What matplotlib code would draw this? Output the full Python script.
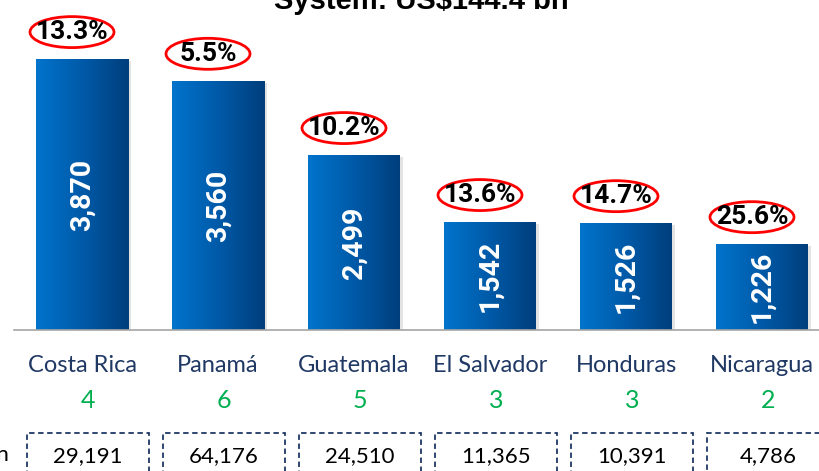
import numpy as np
import matplotlib
matplotlib.use("Agg")
import matplotlib.pyplot as plt
from matplotlib.patches import Rectangle, Ellipse
from matplotlib.colors import LinearSegmentedColormap
from matplotlib import transforms

countries = ["Costa Rica", "Panamá", "Guatemala", "El Salvador", "Honduras", "Nicaragua"]
values = [3870, 3560, 2499, 1542, 1526, 1226]
growth = ["13.3%", "5.5%", "10.2%", "13.6%", "14.7%", "25.6%"]
counts = [4, 6, 5, 3, 3, 2]
boxed = ["29,191", "64,176", "24,510", "11,365", "10,391", "4,786"]
title = "System: US$144.4 bn"

W, H, DPI = 819, 471, 100
NAVY = "#1F3864"; GREEN = "#00B050"
grad = LinearSegmentedColormap.from_list("bar", ["#0074CC", "#005AA8", "#003E7C"])

fig = plt.figure(figsize=(W / DPI, H / DPI), dpi=DPI)
fig.patch.set_facecolor("white")
# axes: baseline at 330 px from top, 136 px between bar centres
base_px = 330
ax = fig.add_axes([0, (H - base_px) / H, 1, base_px / H])
step, x0 = 136, 82
ax.set_xlim(-x0 / step, (W - x0) / step)
ypx = 0.07  # pixels per unit
ax.set_ylim(0, base_px / ypx)
ax.axis("off")

bw = 92 / step
xs = np.arange(len(countries))
bars = ax.bar(xs, values, width=bw, color="none", zorder=3)
g = np.linspace(0, 1, 256).reshape(1, -1)
for b, v in zip(bars, values):
    x = b.get_x()
    # soft shadow
    ax.add_patch(Rectangle((x + 0.02, -25), bw, v, color="#c8c8c8", alpha=0.5, lw=0, zorder=2))
    im = ax.imshow(g, cmap=grad, aspect="auto", extent=(x, x + bw, 0, v), zorder=3)
    im.set_clip_path(b)
    ax.text(b.get_x() + bw / 2, v / 2, f"{v:,}", rotation=90, ha="center", va="center",
            color="white", fontsize=20.5, fontweight="bold", family="Roboto", zorder=4)

# circled growth labels
for i, (v, s) in enumerate(zip(values, growth)):
    cx = i - 10 / step
    cy = v + 27 / ypx
    ax.add_patch(Ellipse((cx, cy), 84 / step, 31 / ypx, fill=False, ec="#FF0000", lw=2,
                         zorder=5, clip_on=False))
    ax.text(cx, cy, s, ha="center", va="center", fontsize=19, fontweight="bold",
            family="Roboto", color="black", zorder=6, clip_on=False)

# baseline
fig.add_artist(plt.Line2D([14 / W, 1], [(H - base_px) / H] * 2, color="#a6a6a6", lw=1.2))

tr = transforms.blended_transform_factory(ax.transData, fig.transFigure)
for i in xs:
    ax.text(i, (H - 366) / H, countries[i], transform=tr, ha="center", va="center",
            fontsize=17, family="Lato", color=NAVY, clip_on=False)
    ax.text(i + 6 / step, (H - 401) / H, str(counts[i]), transform=tr, ha="center",
            va="center", fontsize=18, family="Lato", color=GREEN, clip_on=False)
    ax.add_patch(Rectangle((i + (6 - 61) / step, (H - 500) / H), 122 / step, 67 / H,
                           transform=tr, fill=False, ec=NAVY, lw=1.3, ls=(0, (3, 2)),
                           clip_on=False))
    ax.text(i + 6 / step, (H - 456) / H, boxed[i], transform=tr, ha="center", va="center",
            fontsize=16, family="Lato", color="black", clip_on=False)

fig.text(9 / W, (H - 456) / H, "US$ mn", ha="right", va="center", fontsize=16,
         family="Lato", color="black")
fig.text(421 / W, (H - 9) / H, title, ha="center", va="baseline", fontsize=21,
         fontweight="bold", family="Liberation Sans", color="black")

fig.savefig("out.png", dpi=DPI)
